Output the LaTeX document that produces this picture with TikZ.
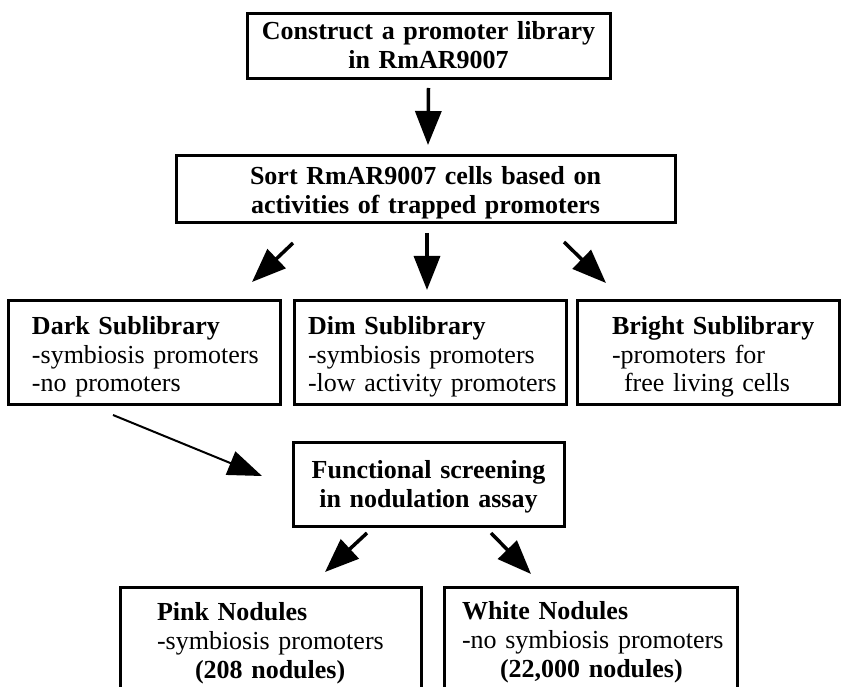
\documentclass[tikz,border=0pt]{standalone}
\usepackage{fontspec}
\setmainfont{Liberation Serif}
\usetikzlibrary{arrows.meta,calc}
\begin{document}
\begin{tikzpicture}[x=1pt,y=-1pt,
  box/.style={draw, line width=3pt, rectangle, inner ysep=0pt, inner xsep=4pt,
    outer sep=0pt, anchor=north west, font=\fontsize{26}{29}\selectfont},
  ctr/.style={box, align=center, font=\fontsize{26}{29}\selectfont\bfseries},
  lft/.style={box, align=left},
  arr/.style={line width=3.5pt, -{Triangle[length=34pt,width=26pt]}},
  thinarr/.style={line width=2pt, -{Triangle[length=34pt,width=25pt]}}
]
\useasboundingbox (0,0) rectangle (841,687);
\clip (0,0) rectangle (841,687);

\node[ctr, text width=355pt, text height=26pt, text depth=39pt] (top) at (247,14)
  {Construct a promoter library\\in RmAR9007};
\node[ctr, text width=491pt, text height=29pt, text depth=38pt] (sort) at (176,156)
  {Sort RmAR9007 cells based on\\activities of trapped promoters};

\node[lft, text width=264pt, text height=34pt, text depth=70pt] (dark) at (8,300)
  {\hspace*{20pt}\textbf{Dark Sublibrary}\\\hspace*{20pt}-symbiosis promoters\\\hspace*{20pt}-no promoters};
\node[lft, text width=264pt, text height=34pt, text depth=70pt] (dim) at (294,300)
  {\hspace*{10pt}\textbf{Dim Sublibrary}\\\hspace*{10pt}-symbiosis promoters\\\hspace*{10pt}-low activity promoters};
\node[lft, text width=254pt, text height=34pt, text depth=70pt] (bright) at (577,300)
  {\hspace*{31pt}\textbf{Bright Sublibrary}\\\hspace*{31pt}-promoters for\\\hspace*{43pt}free living cells};

\node[ctr, text width=263pt, text height=36pt, text depth=48pt] (func) at (293,442)
  {Functional screening\\in nodulation assay};

\node[lft, text width=293pt, text height=33pt, text depth=80pt] (pink) at (120,587)
  {\hspace*{33pt}\textbf{Pink Nodules}\\\hspace*{33pt}-symbiosis promoters\\\hspace*{71pt}\textbf{(208 nodules)}};
\node[lft, text width=285pt, text height=32pt, text depth=81pt] (white) at (444,587)
  {\hspace*{14pt}\textbf{White Nodules}\\\hspace*{14pt}-no symbiosis promoters\\\hspace*{52pt}\textbf{(22,000 nodules)}};

\draw[arr] ($(top.south)+(0,9)$) -- ($(sort.north)+(2.5,-11)$);
\draw[arr] ($(sort.south west)+(117,20)$) -- ($(dark.north east)+(-28,-18)$);
\draw[arr] ($(sort.south)+(1.5,10)$) -- ($(dim.north)+(-3,-10)$);
\draw[arr] ($(sort.south east)+(-111,19)$) -- ($(bright.north west)+(29,-17)$);
\draw[thinarr] ($(dark.south west)+(105,11)$) -- ($(func.west)+(-31,-8)$);
\draw[arr] ($(func.south)+(-61.5,7)$) -- ($(pink.north)+(54.5,-15)$);
\draw[arr] ($(func.south)+(62.5,7)$) -- ($(white.north)+(-59.5,-13)$);
\end{tikzpicture}
\end{document}
